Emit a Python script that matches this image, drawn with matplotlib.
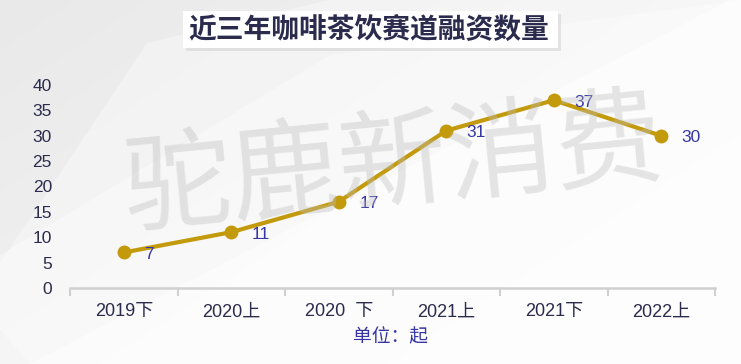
import matplotlib.pyplot as plt
import numpy as np
from matplotlib.patches import Polygon, FancyBboxPatch

plt.rcParams['font.family'] = ['Liberation Sans', 'Noto Sans CJK SC', 'DejaVu Sans']

periods = ['2019下', '2020上', '2020  下', '2021上', '2021下', '2022上']
deals = [7, 11, 17, 31, 37, 30]
yticks = [0, 5, 10, 15, 20, 25, 30, 35, 40]

W, H = 741, 364
fig = plt.figure(figsize=(W / 100, H / 100), dpi=100)

# background with soft diagonal shapes
bg = fig.add_axes([0, 0, 1, 1])
bg.set_xlim(0, W)
bg.set_ylim(H, 0)
bg.axis('off')
yy, xx = np.mgrid[0:H, 0:W]
grad = 0.91 + 0.04 * (xx / W) + 0.03 * (yy / H)
bg.imshow(grad, cmap='gray', vmin=0, vmax=1, extent=(0, W, H, 0), aspect='auto')
bg.add_patch(Polygon([(147, 43), (330, 0), (741, 0), (741, 364), (0, 364), (0, 263)],
                     closed=True, color='white', alpha=0.35, lw=0))
bg.add_patch(Polygon([(330, 55), (741, 0), (741, 364), (30, 364), (0, 330), (0, 255)],
                     closed=True, color='white', alpha=0.35, lw=0))
bg.add_patch(Polygon([(730, 0), (741, 0), (741, 364), (30, 364)],
                     closed=True, color='white', alpha=0.55, lw=0))
bg.add_patch(Polygon([(440, 364), (741, 210), (741, 364)],
                     closed=True, color='white', alpha=0.4, lw=0))

# title box
bg.add_patch(FancyBboxPatch((186, 14), 375, 37, boxstyle='square,pad=0',
                            fc='#d4d4d4', ec='none', alpha=0.6))
bg.add_patch(FancyBboxPatch((183, 11), 375, 37, boxstyle='square,pad=0',
                            fc='white', ec='none'))
bg.text(369, 30, '近三年咖啡茶饮赛道融资数量', fontsize=20, fontweight='bold',
        color='#2b2b4e', ha='center', va='center', family=['Noto Sans CJK SC'])

ax = fig.add_axes([70 / W, 1 - 288 / H, 645 / W, 203 / H])
ax.patch.set_alpha(0)
x = np.arange(len(periods))
ax.plot(x, deals, color='#c39a0c', lw=3, marker='o', ms=9, zorder=3)
for xi, v in zip(x, deals):
    ax.text(xi + 0.19, v - 0.4, str(v), color='#3535a5', fontsize=12.5,
            ha='left', va='center')

ax.set_xlim(-0.5, len(periods) - 0.5)
ax.set_ylim(0, 40)
ax.set_yticks(yticks)
ax.set_xticks(x)
ax.set_xticklabels(periods)
ax.set_xticks(np.arange(-0.5, len(periods), 1), minor=True)
ax.tick_params(axis='x', which='major', length=0, pad=11, labelsize=13, labelcolor='#2b2b4e')
ax.tick_params(axis='x', which='minor', length=6, width=1.5, color='#d0d0d0', direction='out')
ax.tick_params(axis='y', length=0, pad=13, labelsize=12.5, labelcolor='#2b2b4e')
for s in ['top', 'right', 'left']:
    ax.spines[s].set_visible(False)
ax.spines['bottom'].set_color('#d0d0d0')
ax.spines['bottom'].set_linewidth(1.8)

# watermark, drawn above the line so it fades it slightly
fig.text(394 / W, 1 - 168 / H, '驼鹿新消费', fontsize=78, color='#bdbdbd', alpha=0.38,
         ha='center', va='center', rotation=5.5, family=['Noto Sans CJK SC'],
         fontweight='light', zorder=10)

fig.text(390 / W, 1 - 337 / H, '单位：起', color='#3535a5', fontsize=13.5,
         ha='center', va='center', family=['Noto Sans CJK SC'])

fig.savefig('out.png', dpi=100)
